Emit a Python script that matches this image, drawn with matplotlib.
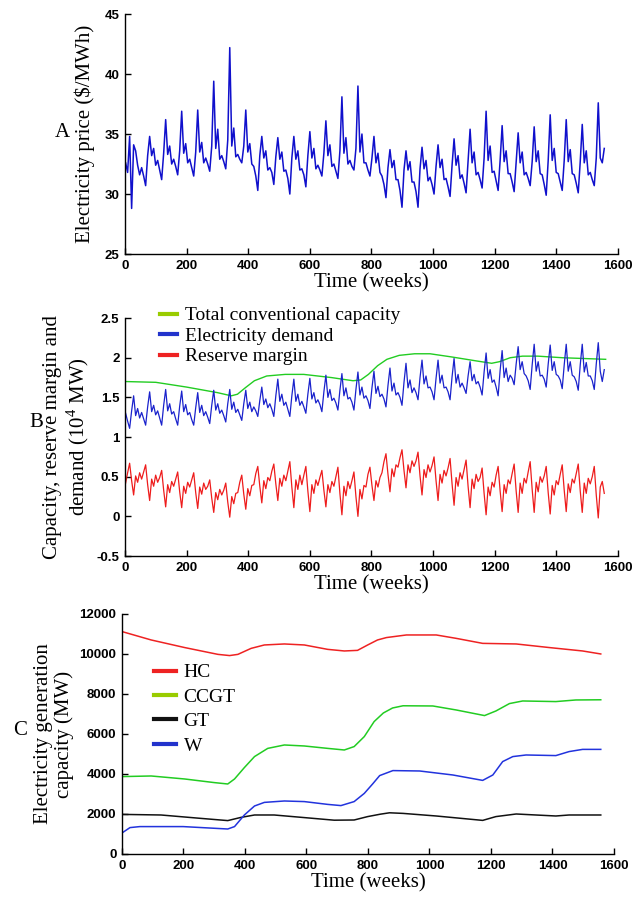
# Weekly electricity market simulation: price, capacity/demand/margin, generation mix

import numpy as np
import matplotlib
matplotlib.use("Agg")
import matplotlib.pyplot as plt
from matplotlib.lines import Line2D

plt.rcParams['font.family'] = ['Liberation Serif', 'DejaVu Serif']
plt.rcParams['mathtext.fontset'] = 'custom'
plt.rcParams['mathtext.rm'] = 'Liberation Serif'

# --- data: one row per simulated year, 8 samples per year (every 6.5 weeks) ---
price_rows = [
    [32.6, 31.8, 34.8, 28.8, 34.1, 33.6, 32.4, 31.6],
    [32.2, 31.5, 30.7, 33.2, 34.8, 33.2, 33.8, 32.4],
    [32.8, 32.0, 31.2, 33.4, 36.2, 33.3, 34.0, 32.5],
    [32.9, 32.3, 31.6, 33.6, 36.9, 33.4, 34.2, 32.6],
    [32.9, 32.2, 31.5, 33.5, 37.0, 33.5, 34.3, 32.6],
    [33.0, 32.5, 31.9, 34.0, 39.4, 33.8, 35.4, 32.9],
    [33.2, 32.7, 32.1, 34.5, 42.2, 34.0, 35.5, 33.1],
    [33.3, 32.9, 32.6, 34.0, 37.0, 33.5, 34.2, 32.5],
    [32.3, 31.5, 30.3, 33.2, 34.8, 33.0, 33.6, 32.0],
    [32.2, 31.8, 30.8, 33.1, 34.7, 32.9, 33.5, 31.9],
    [32.0, 31.3, 30.0, 33.0, 34.8, 32.9, 33.6, 32.0],
    [32.1, 31.6, 30.6, 33.2, 35.2, 33.0, 33.8, 32.1],
    [32.4, 32.0, 31.5, 33.4, 36.1, 33.2, 34.1, 32.3],
    [32.5, 31.9, 31.3, 33.6, 38.1, 33.4, 34.7, 32.5],
    [32.8, 32.3, 32.0, 33.8, 39.0, 33.5, 35.0, 32.6],
    [32.6, 32.0, 31.5, 33.0, 34.8, 32.6, 33.4, 31.8],
    [31.5, 30.8, 29.7, 32.2, 33.7, 32.2, 32.8, 31.2],
    [31.2, 30.3, 28.9, 32.0, 33.6, 32.0, 32.7, 31.0],
    [31.0, 30.2, 28.9, 32.1, 33.9, 32.1, 32.8, 31.1],
    [31.4, 30.8, 30.0, 32.3, 34.1, 32.2, 32.9, 31.2],
    [31.3, 30.6, 29.8, 32.4, 34.6, 32.4, 33.2, 31.3],
    [31.6, 30.9, 30.1, 32.7, 35.4, 32.6, 33.5, 31.6],
    [31.8, 31.2, 30.5, 33.0, 36.9, 32.8, 34.0, 31.8],
    [31.9, 31.1, 30.3, 32.8, 35.7, 32.7, 33.6, 31.7],
    [31.7, 31.0, 30.2, 32.6, 35.1, 32.6, 33.5, 31.6],
    [31.8, 31.3, 30.7, 32.7, 35.6, 32.7, 33.6, 31.7],
    [31.6, 30.8, 29.9, 32.8, 36.6, 32.8, 33.8, 31.8],
    [31.7, 31.0, 30.3, 32.8, 36.2, 32.7, 33.7, 31.7],
    [31.6, 30.9, 30.1, 32.7, 35.8, 32.6, 33.6, 31.6],
    [31.8, 31.2, 30.7, 33.0, 37.6, 33.0, 32.6, 33.8],
]

# electricity demand, 10^4 MW
demand_rows = [
    [1.30, 1.20, 1.11, 1.33, 1.52, 1.27, 1.36, 1.24],
    [1.31, 1.23, 1.15, 1.38, 1.57, 1.32, 1.40, 1.28],
    [1.33, 1.24, 1.15, 1.40, 1.60, 1.33, 1.42, 1.29],
    [1.32, 1.23, 1.15, 1.39, 1.58, 1.32, 1.41, 1.28],
    [1.31, 1.22, 1.15, 1.37, 1.56, 1.31, 1.40, 1.27],
    [1.32, 1.25, 1.17, 1.40, 1.59, 1.34, 1.42, 1.30],
    [1.34, 1.27, 1.19, 1.42, 1.60, 1.35, 1.44, 1.31],
    [1.35, 1.28, 1.21, 1.42, 1.59, 1.36, 1.44, 1.32],
    [1.38, 1.33, 1.26, 1.46, 1.63, 1.41, 1.48, 1.37],
    [1.42, 1.35, 1.26, 1.52, 1.73, 1.45, 1.54, 1.40],
    [1.44, 1.35, 1.26, 1.52, 1.73, 1.45, 1.54, 1.40],
    [1.45, 1.38, 1.30, 1.54, 1.74, 1.48, 1.56, 1.43],
    [1.47, 1.41, 1.32, 1.57, 1.78, 1.50, 1.60, 1.46],
    [1.49, 1.43, 1.34, 1.59, 1.80, 1.52, 1.62, 1.48],
    [1.50, 1.44, 1.34, 1.60, 1.82, 1.53, 1.63, 1.49],
    [1.52, 1.46, 1.36, 1.62, 1.83, 1.55, 1.64, 1.51],
    [1.54, 1.48, 1.38, 1.65, 1.87, 1.58, 1.68, 1.53],
    [1.56, 1.50, 1.40, 1.69, 1.93, 1.62, 1.72, 1.56],
    [1.62, 1.56, 1.47, 1.75, 1.97, 1.67, 1.77, 1.62],
    [1.63, 1.57, 1.47, 1.74, 1.97, 1.68, 1.78, 1.62],
    [1.63, 1.57, 1.47, 1.76, 1.99, 1.68, 1.79, 1.63],
    [1.68, 1.62, 1.55, 1.77, 1.95, 1.71, 1.79, 1.67],
    [1.70, 1.63, 1.53, 1.82, 2.06, 1.74, 1.85, 1.69],
    [1.72, 1.63, 1.52, 1.84, 2.09, 1.75, 1.87, 1.70],
    [1.78, 1.74, 1.66, 1.92, 2.14, 1.85, 1.95, 1.80],
    [1.77, 1.71, 1.60, 1.91, 2.17, 1.83, 1.95, 1.77],
    [1.78, 1.73, 1.63, 1.92, 2.16, 1.84, 1.95, 1.79],
    [1.77, 1.72, 1.61, 1.91, 2.17, 1.83, 1.95, 1.78],
    [1.76, 1.70, 1.59, 1.91, 2.17, 1.82, 1.94, 1.77],
    [1.77, 1.71, 1.60, 1.92, 2.19, 1.83, 1.70, 1.85],
]

# reserve margin, 10^4 MW
margin_rows = [
    [0.42, 0.55, 0.67, 0.45, 0.27, 0.51, 0.43, 0.55],
    [0.47, 0.56, 0.65, 0.40, 0.20, 0.47, 0.38, 0.52],
    [0.43, 0.49, 0.58, 0.33, 0.12, 0.40, 0.30, 0.44],
    [0.38, 0.47, 0.56, 0.31, 0.11, 0.38, 0.29, 0.43],
    [0.37, 0.46, 0.55, 0.30, 0.10, 0.37, 0.28, 0.42],
    [0.34, 0.38, 0.46, 0.23, 0.05, 0.30, 0.21, 0.34],
    [0.27, 0.33, 0.42, 0.18, -0.01, 0.25, 0.16, 0.29],
    [0.30, 0.43, 0.52, 0.28, 0.09, 0.35, 0.26, 0.39],
    [0.40, 0.54, 0.63, 0.38, 0.17, 0.45, 0.35, 0.49],
    [0.45, 0.57, 0.66, 0.41, 0.20, 0.48, 0.38, 0.52],
    [0.45, 0.57, 0.69, 0.37, 0.11, 0.46, 0.34, 0.52],
    [0.40, 0.52, 0.63, 0.32, 0.06, 0.40, 0.29, 0.46],
    [0.39, 0.49, 0.58, 0.33, 0.12, 0.40, 0.30, 0.44],
    [0.38, 0.50, 0.62, 0.29, 0.02, 0.38, 0.26, 0.44],
    [0.35, 0.45, 0.56, 0.25, 0.00, 0.34, 0.22, 0.39],
    [0.37, 0.53, 0.62, 0.39, 0.20, 0.45, 0.37, 0.49],
    [0.55, 0.69, 0.79, 0.53, 0.31, 0.60, 0.50, 0.65],
    [0.62, 0.74, 0.84, 0.58, 0.36, 0.65, 0.55, 0.70],
    [0.63, 0.70, 0.81, 0.51, 0.27, 0.59, 0.49, 0.65],
    [0.56, 0.64, 0.75, 0.45, 0.20, 0.53, 0.42, 0.58],
    [0.51, 0.61, 0.73, 0.41, 0.14, 0.49, 0.38, 0.55],
    [0.47, 0.59, 0.71, 0.38, 0.11, 0.47, 0.35, 0.53],
    [0.44, 0.49, 0.61, 0.29, 0.02, 0.37, 0.26, 0.43],
    [0.37, 0.52, 0.63, 0.32, 0.06, 0.40, 0.29, 0.46],
    [0.41, 0.54, 0.66, 0.32, 0.05, 0.42, 0.29, 0.48],
    [0.42, 0.56, 0.69, 0.34, 0.05, 0.43, 0.31, 0.50],
    [0.43, 0.51, 0.63, 0.30, 0.03, 0.39, 0.27, 0.45],
    [0.40, 0.53, 0.65, 0.33, 0.06, 0.41, 0.30, 0.47],
    [0.42, 0.54, 0.66, 0.32, 0.05, 0.42, 0.29, 0.48],
    [0.41, 0.50, 0.63, 0.27, -0.02, 0.37, 0.44, 0.29],
]

# total conventional capacity, 10^4 MW
cap_weeks = [0, 100, 200, 300, 345, 365, 390, 420, 460, 520, 580, 670, 740,
             765, 790, 820, 850, 890, 940, 990, 1060, 1140, 1190, 1215, 1250,
             1290, 1340, 1420, 1490, 1560]
cap_total = [1.70, 1.69, 1.63, 1.56, 1.52, 1.54, 1.62, 1.71, 1.77, 1.79, 1.79,
             1.75, 1.71, 1.72, 1.79, 1.90, 1.98, 2.03, 2.05, 2.05, 2.01, 1.96,
             1.93, 1.95, 2.00, 2.02, 2.02, 2.00, 1.99, 1.98]

# generation capacity by technology, MW
hc_weeks = [0, 95, 204, 312, 350, 377, 420, 463, 528, 593, 669, 723, 766, 799,
            831, 860, 925, 1022, 1087, 1173, 1282, 1390, 1498, 1557]
hc_mw = [11120, 10700, 10320, 9980, 9920, 9980, 10280, 10450, 10500, 10450,
         10230, 10150, 10180, 10450, 10700, 10820, 10950, 10950, 10780, 10530,
         10500, 10320, 10150, 10000]

ccgt_weeks = [0, 95, 204, 300, 344, 366, 398, 431, 474, 528, 593, 669, 723,
              755, 788, 820, 850, 880, 914, 1011, 1087, 1179, 1216, 1260, 1303,
              1411, 1476, 1557]
ccgt_mw = [3870, 3900, 3750, 3570, 3500, 3750, 4320, 4870, 5280, 5450, 5400,
           5280, 5200, 5370, 5870, 6620, 7050, 7300, 7410, 7400, 7200, 6920,
           7150, 7520, 7650, 7620, 7700, 7710]

gt_weeks = [0, 127, 257, 344, 387, 431, 495, 593, 690, 755, 799, 840, 870,
            914, 1022, 1173, 1216, 1282, 1346, 1411, 1454, 1557]
gt_mw = [1980, 1950, 1780, 1670, 1830, 1950, 1950, 1820, 1690, 1700, 1870,
         1990, 2060, 2030, 1900, 1680, 1870, 2000, 1950, 1900, 1950, 1950]

w_weeks = [0, 26, 58, 199, 344, 366, 398, 431, 463, 528, 593, 669, 712, 755,
           788, 815, 838, 881, 968, 1076, 1173, 1206, 1238, 1271, 1314, 1411,
           1454, 1498, 1557]
w_mw = [1050, 1320, 1370, 1370, 1250, 1370, 1950, 2400, 2580, 2650, 2620, 2480,
        2420, 2620, 3030, 3500, 3920, 4170, 4150, 3950, 3680, 3950, 4620, 4870,
        4950, 4920, 5120, 5230, 5230]

price = np.array(price_rows).ravel()
demand = np.array(demand_rows).ravel()
margin = np.array(margin_rows).ravel()
weeks = 2 + 6.5 * np.arange(price.size)

xticks = list(range(0, 1601, 200))

fig = plt.figure(figsize=(6.44, 8.98), dpi=100)
axA = fig.add_axes([0.1941, 0.7171, 0.7655, 0.2673])
axB = fig.add_axes([0.1941, 0.3808, 0.7655, 0.2650])
axC = fig.add_axes([0.1894, 0.0490, 0.7640, 0.2673])


def style(ax):
    for s in ['top', 'right']:
        ax.spines[s].set_visible(False)
    for s in ['left', 'bottom']:
        ax.spines[s].set_linewidth(1.0)
    ax.tick_params(direction='in', length=4, width=1, pad=4)
    ax.set_xlim(0, 1600)
    ax.set_xticks(xticks)
    for lab in ax.get_xticklabels() + ax.get_yticklabels():
        lab.set_fontfamily('Liberation Sans')
        lab.set_fontweight('bold')
        lab.set_fontsize(9.5)
    ax.set_xlabel("Time (weeks)", fontsize=15, labelpad=1)


# --- Panel A: electricity price ---
axA.plot(weeks, price, color='#1010cc', lw=1.1)
axA.set_ylim(25, 45)
axA.set_yticks([25, 30, 35, 40, 45])
style(axA)
axA.set_ylabel("Electricity price ($/MWh)", fontsize=15, labelpad=7)
fig.text(0.097, 0.853, "A", fontsize=15, ha='center', va='center')

# --- Panel B: capacity, demand, reserve margin ---
axB.plot(cap_weeks, cap_total, color='#22cc22', lw=1.0)
axB.plot(weeks, demand, color='#1a22cc', lw=0.9)
axB.plot(weeks, margin, color='#ee1c1c', lw=0.9)
axB.set_ylim(-0.5, 2.5)
axB.set_yticks([-0.5, 0, 0.5, 1, 1.5, 2, 2.5])
axB.set_yticklabels(['-0.5', '0', '0.5', '1', '1.5', '2', '2.5'])
style(axB)
axB.set_ylabel("Capacity, reserve margin and\ndemand (10$^{\\mathregular{4}}$ MW)",
               fontsize=15, labelpad=4, linespacing=1.1)
fig.text(0.056, 0.530, "B", fontsize=15, ha='center', va='center')
handlesB = [Line2D([], [], color='#99cc00', lw=3),
            Line2D([], [], color='#2233cc', lw=3),
            Line2D([], [], color='#ee2222', lw=3)]
axB.legend(handlesB, ["Total conventional capacity", "Electricity demand",
                      "Reserve margin"],
           loc='upper left', bbox_to_anchor=(0.055, 1.08), frameon=False,
           fontsize=14, handlelength=0.9, handletextpad=0.4,
           labelspacing=0.15, borderaxespad=0)

# --- Panel C: generation capacity by technology ---
axC.plot(hc_weeks, hc_mw, color='#ee2222', lw=1.1)
axC.plot(ccgt_weeks, ccgt_mw, color='#22cc22', lw=1.1)
axC.plot(gt_weeks, gt_mw, color='#111111', lw=1.1)
axC.plot(w_weeks, w_mw, color='#2233dd', lw=1.1)
axC.set_ylim(0, 12000)
axC.set_yticks(list(range(0, 12001, 2000)))
style(axC)
axC.set_ylabel("Electricity generation\ncapacity (MW)", fontsize=15,
               labelpad=4, linespacing=1.1)
fig.text(0.031, 0.187, "C", fontsize=15, ha='center', va='center')
handlesC = [Line2D([], [], color='#ee2222', lw=3),
            Line2D([], [], color='#99cc00', lw=3),
            Line2D([], [], color='#111111', lw=3),
            Line2D([], [], color='#2233cc', lw=3)]
axC.legend(handlesC, ["HC", "CCGT", "GT", "W"], loc='upper left',
           bbox_to_anchor=(0.05, 0.825), frameon=False, fontsize=14,
           handlelength=1.1, handletextpad=0.4, labelspacing=0.35,
           borderaxespad=0)

fig.savefig("out.png", dpi=100)
